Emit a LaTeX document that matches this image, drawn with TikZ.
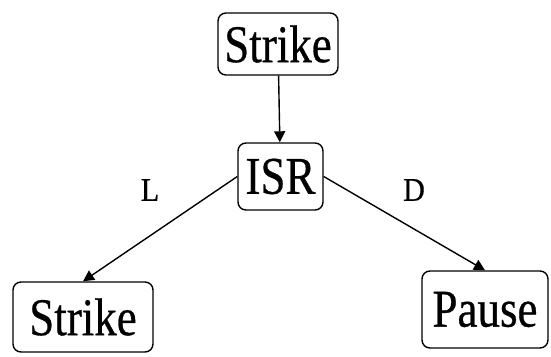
\documentclass[tikz,border=0pt]{standalone}
\usepackage{fontspec}
\setmainfont{Liberation Serif}[FakeBold=0.6]
\usetikzlibrary{arrows.meta}
\begin{document}
\begin{tikzpicture}[x=1pt,y=1pt,
  statebox/.style={draw, line width=1.4pt, rounded corners=8pt, inner sep=0pt,
    font=\fontsize{45}{45}\selectfont},
  edgelabel/.style={font=\fontsize{30}{30}\selectfont},
  link/.style={line width=1.4pt, -{Triangle[length=11pt,width=11pt]}}]
  \useasboundingbox (0,0) rectangle (551,356);
  % states
  \node[statebox, minimum width=120pt, minimum height=62pt] (top) at (278,312) {\scalebox{1}[1.18]{Strike}};
  \node[statebox, minimum width=85pt, minimum height=67pt] (isr) at (280.5,179.5) {\scalebox{1}[1.18]{ISR}};
  \node[statebox, minimum width=140pt, minimum height=70pt] (strike) at (83,39) {\scalebox{1}[1.18]{Strike}};
  \node[statebox, minimum width=126pt, minimum height=77pt] (pause) at (485,46.5) {\scalebox{1}[1.18]{Pause}};
  % transitions
  \draw[link] (top) -- (isr);
  \draw[link] (isr.west) -- (strike.north);
  \draw[link] (isr.east) -- (pause.north);
  % branch labels
  \node[edgelabel] (lblL) at (150,166) {\scalebox{1}[1.1]{L}};
  \node[edgelabel] (lblD) at (414,166) {\scalebox{1}[1.1]{D}};
\end{tikzpicture}
\end{document}
